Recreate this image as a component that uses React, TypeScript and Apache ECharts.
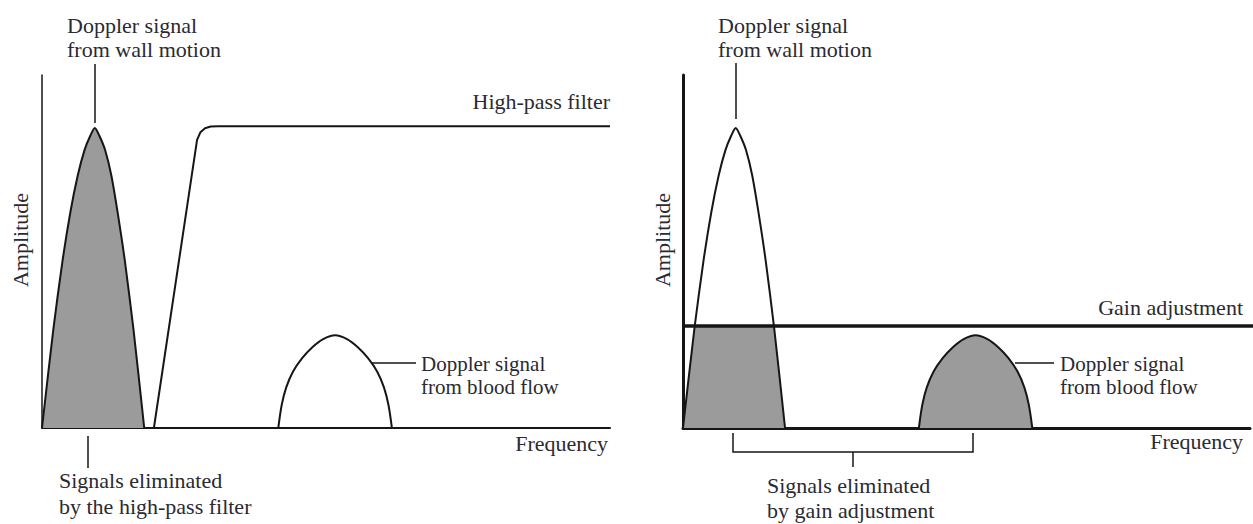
import React, { useEffect, useRef } from "react";
import * as echarts from "echarts";

// Shapes (frequency 0-100, amplitude 0-100)
const wallPeakFreq = [0, 2.0, 3.6, 5.0, 6.3, 7.5, 8.5, 9.3, 10.1, 11.1, 12.2, 13.3, 14.6, 16.1, 18];
const wallPeakAmp = [0, 28, 47.2, 61.2, 71.6, 78.8, 82.8, 85, 82.8, 78.8, 71.6, 61.2, 47.2, 28, 0];
const bloodFreq = [41.6, 42.2, 43.0, 44.2, 45.8, 47.6, 49.5, 51.6, 53.7, 55.6, 57.4, 59.0, 60.2, 61.0, 61.6];
const bloodAmp = [0, 6.5, 11.5, 16, 19.8, 22.9, 25.2, 26.3, 25.2, 22.9, 19.8, 16, 11.5, 6.5, 0];
const filterFreq = [19.7, 27.3, 27.9, 28.7, 29.7, 31, 100];
const filterAmp = [0, 81.6, 83.8, 84.9, 85.4, 85.5, 85.5];
const gainLevel = 28.9;
const clippedWallFreq = [0, 2.1, 16.0, 18];
const clippedWallAmp = [0, gainLevel, gainLevel, 0];

const zip = (a: number[], b: number[]) => a.map((v, i) => [v, b[i]]);

const INK = "#161616";
const TXT = "#2a2a33";
const GRAY = "#9b9b9b";
const FONT = '"Liberation Serif", serif';

function txt(text: string, x: number, y: number, align = "left", rotation = 0, size = 22) {
  return {
    type: "text",
    x,
    y,
    rotation,
    z: 100,
    style: {
      text,
      fill: TXT,
      fontSize: size,
      fontFamily: FONT,
      align,
      verticalAlign: "middle",
    },
  };
}
function ln(x1: number, y1: number, x2: number, y2: number, w = 1.5) {
  return {
    type: "line",
    z: 100,
    shape: { x1, y1, x2, y2 },
    style: { stroke: INK, lineWidth: w },
  };
}

export default function App() {
  const ref = useRef<HTMLDivElement>(null);
  useEffect(() => {
    if (!ref.current) return;
    const chart = echarts.init(ref.current, undefined, { renderer: "svg" });
    const axisX = (gi: number, w: number) => ({
      type: "value",
      gridIndex: gi,
      min: 0,
      max: 100,
      axisLine: { show: true, lineStyle: { color: INK, width: w } },
      axisTick: { show: false },
      axisLabel: { show: false },
      splitLine: { show: false },
    });
    const base = { type: "line", symbol: "none", showSymbol: false, silent: true };
    chart.setOption({
      animation: false,
      backgroundColor: "#ffffff",
      grid: [
        { left: 42, top: 75, width: 568, height: 353 },
        { left: 683, top: 75, width: 567, height: 353 },
      ],
      xAxis: [axisX(0, 2), axisX(1, 3)],
      yAxis: [axisX(0, 1.5), axisX(1, 3)],
      series: [
        {
          ...base,
          xAxisIndex: 0,
          yAxisIndex: 0,
          data: zip(wallPeakFreq, wallPeakAmp),
          smooth: 0.25,
          lineStyle: { color: INK, width: 2 },
          areaStyle: { color: GRAY, opacity: 1 },
        },
        {
          ...base,
          xAxisIndex: 0,
          yAxisIndex: 0,
          data: zip(filterFreq, filterAmp),
          lineStyle: { color: INK, width: 2, join: "round" },
        },
        {
          ...base,
          xAxisIndex: 0,
          yAxisIndex: 0,
          data: zip(bloodFreq, bloodAmp),
          smooth: 0.3,
          lineStyle: { color: INK, width: 2 },
        },
        {
          ...base,
          xAxisIndex: 1,
          yAxisIndex: 1,
          data: zip(clippedWallFreq, clippedWallAmp),
          lineStyle: { width: 0, opacity: 0 },
          areaStyle: { color: GRAY, opacity: 1 },
        },
        {
          ...base,
          xAxisIndex: 1,
          yAxisIndex: 1,
          data: zip(wallPeakFreq, wallPeakAmp),
          smooth: 0.25,
          lineStyle: { color: INK, width: 2 },
        },
        {
          ...base,
          xAxisIndex: 1,
          yAxisIndex: 1,
          data: zip(bloodFreq, bloodAmp),
          smooth: 0.3,
          lineStyle: { color: INK, width: 2 },
          areaStyle: { color: GRAY, opacity: 1 },
        },
        {
          ...base,
          xAxisIndex: 1,
          yAxisIndex: 1,
          clip: false,
          data: [
            [0, gainLevel],
            [100.6, gainLevel],
          ],
          lineStyle: { color: INK, width: 3.5 },
        },
      ],
      graphic: [
        // left panel
        txt("Doppler signal", 67, 25),
        txt("from wall motion", 67, 49),
        ln(95, 64, 95, 123),
        txt("High-pass filter", 610, 101, "right"),
        txt("Amplitude", 20, 240, "center", Math.PI / 2),
        txt("Doppler signal", 421, 364, "left", 0, 21),
        txt("from blood flow", 421, 387, "left", 0, 21),
        ln(372, 363, 416, 363),
        txt("Frequency", 608, 443, "right"),
        ln(88, 436, 88, 468),
        txt("Signals eliminated", 59, 480),
        txt("by the high-pass filter", 59, 506),
        // right panel
        txt("Doppler signal", 718, 25),
        txt("from wall motion", 718, 49),
        ln(736, 63, 736, 119),
        txt("Amplitude", 662, 240, "center", Math.PI / 2),
        txt("Gain adjustment", 1243, 307, "right"),
        txt("Doppler signal", 1060, 364, "left", 0, 21),
        txt("from blood flow", 1060, 387, "left", 0, 21),
        ln(1015, 363, 1054, 363),
        txt("Frequency", 1243, 441, "right"),
        {
          type: "polyline",
          z: 100,
          shape: {
            points: [
              [733, 433],
              [733, 452],
              [973, 452],
              [973, 433],
            ],
          },
          style: { stroke: INK, lineWidth: 1.5, fill: null },
        },
        ln(853, 452, 853, 467),
        txt("Signals eliminated", 767, 485),
        txt("by gain adjustment", 767, 510),
      ],
    });
    return () => chart.dispose();
  }, []);
  return (
    <div
      ref={ref}
      style={{ position: "fixed", left: 0, top: 0, width: 1253, height: 524 }}
    />
  );
}
